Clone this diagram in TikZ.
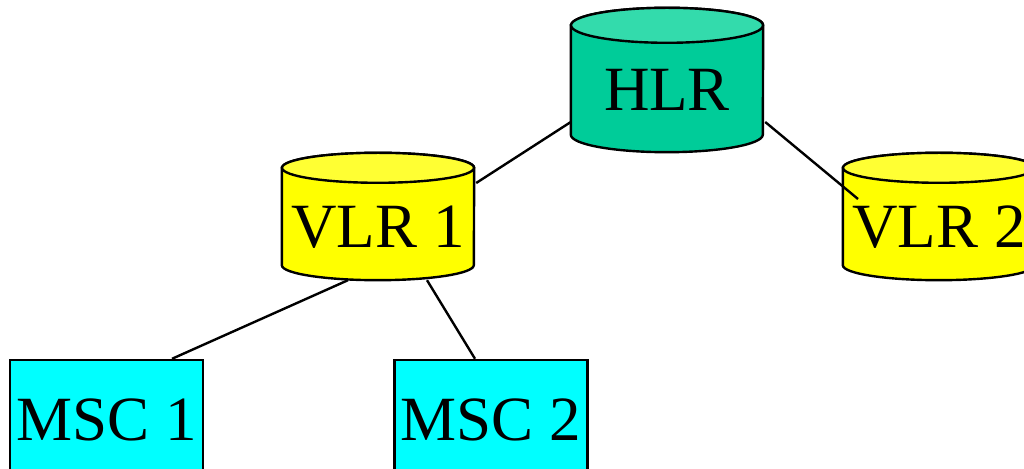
\documentclass[tikz,border=0pt]{standalone}
\usepackage{fontspec}
\setmainfont{Liberation Serif}
\usetikzlibrary{calc,backgrounds}

\definecolor{hlrbody}{RGB}{0,204,153}
\definecolor{hlrtop}{RGB}{51,219,172}
\definecolor{vlrbody}{RGB}{255,255,0}
\definecolor{vlrtop}{RGB}{255,255,51}
\definecolor{mscfill}{RGB}{0,255,255}

\begin{document}
\begin{tikzpicture}[
    x=1pt, y=1pt,
    base/.style={inner sep=0pt, font=\fontsize{63}{70}\selectfont},
    db/.style={base, rectangle, minimum width=192pt, text height=62pt, text depth=0pt},
    hlrdb/.style={db, minimum height=144pt},
    vlrdb/.style={db, minimum height=127pt},
    msc/.style={base, draw, line width=2.4pt, rectangle, fill=mscfill, minimum width=193pt, minimum height=120pt},
    shell/.style={draw, line width=2.4pt},
    link/.style={line width=2.4pt}
]
\clip (0,0) rectangle (1024,468);
\useasboundingbox (0,0) rectangle (1024,468);

% Databases
\node[hlrdb] (hlr) at (667,388) {HLR};
\node[vlrdb] (vlr1) at (378,251.5) {VLR 1};
\node[vlrdb] (vlr2) at (939,251.5) {VLR 2};

% Switching centres
\node[msc] (msc1) at (106.5,48) {MSC 1};
\node[msc] (msc2) at (491,48) {MSC 2};

% Cylinder outlines behind the database labels
\begin{scope}[on background layer]
\foreach \n/\ry/\body/\cap in {hlr/17.5/hlrbody/hlrtop, vlr1/15/vlrbody/vlrtop, vlr2/15/vlrbody/vlrtop}{
  \draw[shell, fill=\body] ($(\n.north west)+(0,-\ry)$) -- ($(\n.south west)+(0,\ry)$)
    arc[start angle=180, end angle=360, x radius=96pt, y radius=\ry pt]
    -- ($(\n.north east)+(0,-\ry)$)
    arc[start angle=0, end angle=180, x radius=96pt, y radius=\ry pt] -- cycle;
  \draw[shell, fill=\cap] ($(\n.north)+(0,-\ry)$) ellipse[x radius=96pt, y radius=\ry pt];
}
\end{scope}

% Links
\draw[link] ($(hlr.west)+(0,-42)$) -- ($(vlr1.east)+(2,33.5)$);
\draw[link] ($(hlr.east)+(2,-42)$) -- ($(vlr2.center)+(-81,17.5)$);
\draw[link] ($(vlr1.south)+(-30,0)$) -- ($(msc1.north)+(65.5,0)$);
\draw[link] ($(vlr1.south)+(49,0)$) -- ($(msc2.north)+(-16,0)$);
\end{tikzpicture}
\end{document}
